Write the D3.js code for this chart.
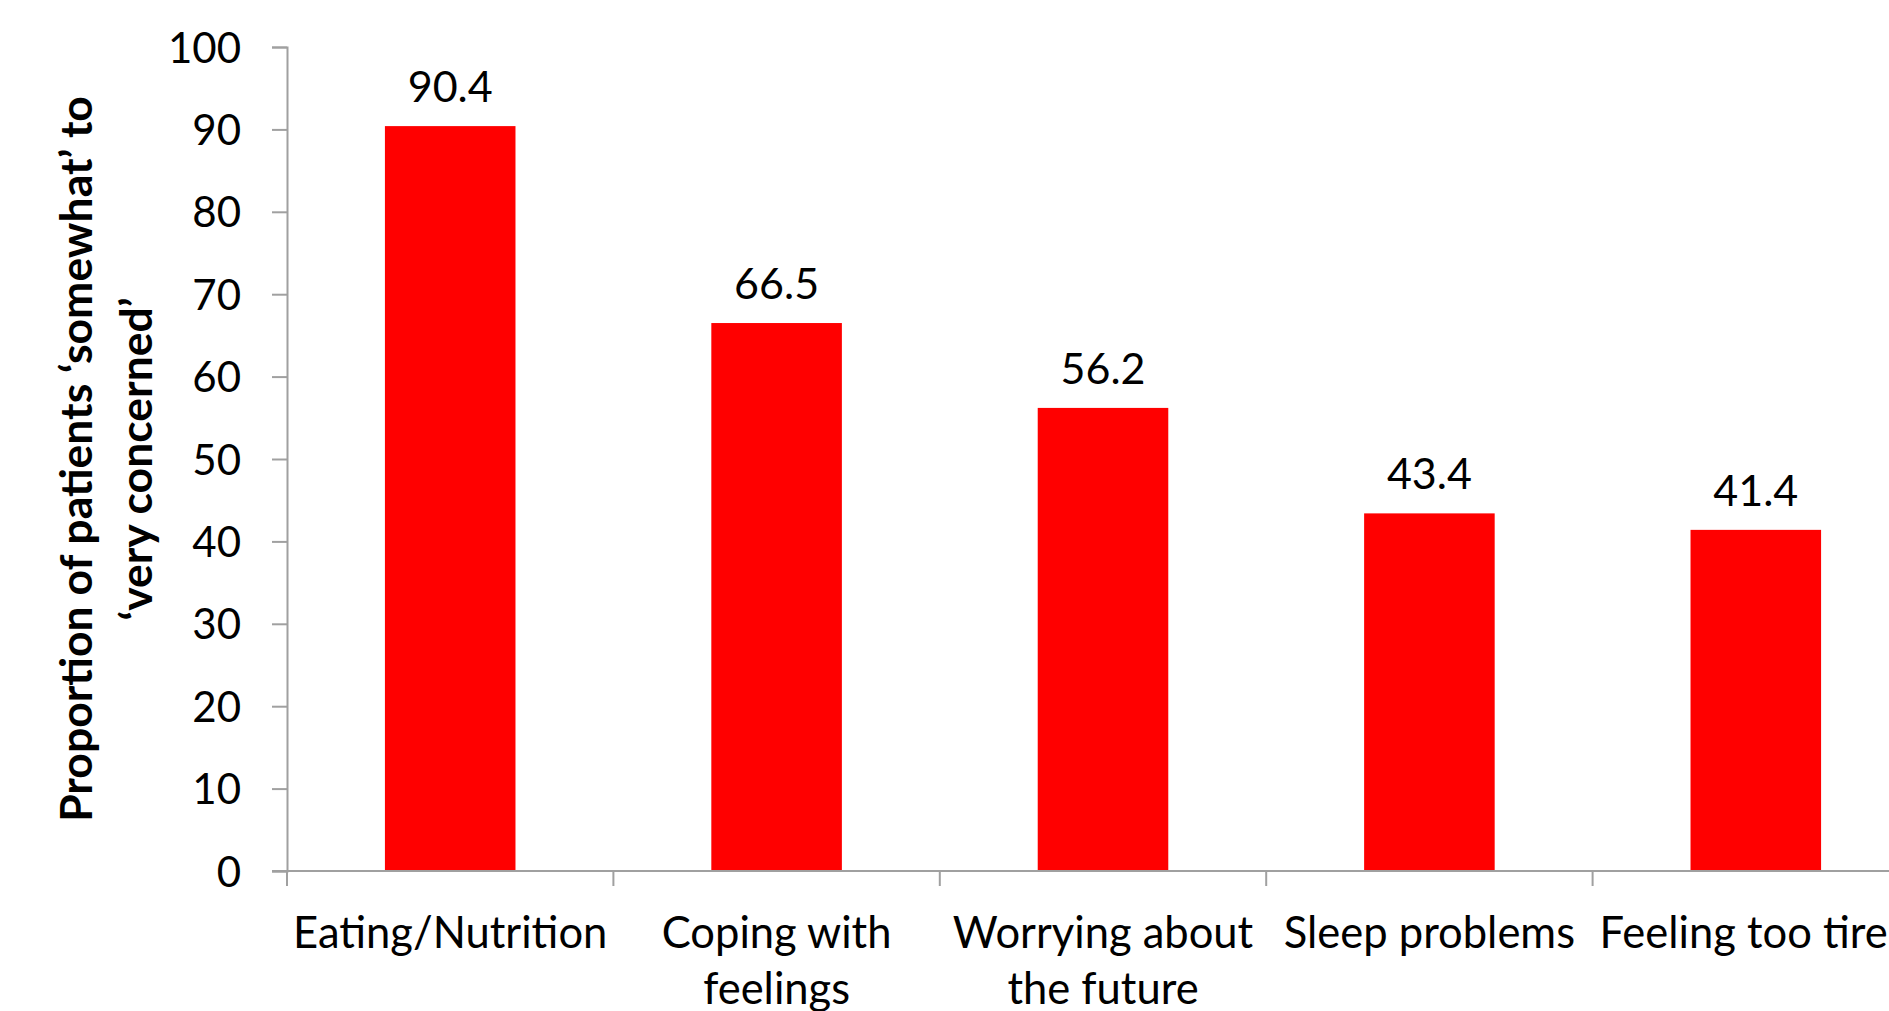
<!DOCTYPE html>
<html>
<head>
<meta charset="utf-8">
<script src="https://cdn.jsdelivr.net/npm/d3@7"></script>
<style>
  html, body { margin: 0; padding: 0; background: #fff; overflow: hidden; }
  svg { display: block; }
  text { font-family: Lato, "Open Sans", sans-serif; fill: #000; }
</style>
</head>
<body>
<svg id="chart" width="1889" height="1011"></svg>
<script>
const categories = ["Eating/Nutrition", "Coping with feelings", "Worrying about the future", "Sleep problems", "Feeling too tired"];
const categoryLines = [["Eating/Nutrition"], ["Coping with", "feelings"], ["Worrying about", "the future"], ["Sleep problems"], ["Feeling too tired"]];
const values = [90.4, 66.5, 56.2, 43.4, 41.4];
const yTicks = [0, 10, 20, 30, 40, 50, 60, 70, 80, 90, 100];
const yTitleLines = ["Proportion of patients \u2018somewhat\u2019 to", "\u2018very concerned\u2019"];

const W = 1889, H = 1011;
const plotLeft = 287, step = 326.4, plotTop = 47, plotBottom = 871;
const axisColor = "#a0a0a0";

const svg = d3.select("#chart");

const x = d3.scaleBand()
  .domain(categories)
  .range([plotLeft, plotLeft + step * categories.length])
  .paddingInner(0.6)
  .paddingOuter(0.3);

const y = d3.scaleLinear().domain([0, 100]).range([plotBottom, plotTop]);

// bars
svg.append("g").selectAll("rect")
  .data(categories)
  .join("rect")
  .attr("x", d => x(d))
  .attr("width", x.bandwidth())
  .attr("y", (d, i) => y(values[i]))
  .attr("height", (d, i) => y(0) - y(values[i]))
  .attr("fill", "#ff0000");

// value labels
svg.append("g").selectAll("text")
  .data(categories)
  .join("text")
  .attr("x", d => x(d) + x.bandwidth() / 2)
  .attr("y", (d, i) => y(values[i]) - 24)
  .attr("text-anchor", "middle")
  .style("font-size", "43px")
  .text((d, i) => values[i].toFixed(1));

// y axis
const yAxis = svg.append("g")
  .attr("transform", `translate(${plotLeft},0)`)
  .call(d3.axisLeft(y).tickValues(yTicks).tickSize(15).tickPadding(31).tickFormat(d3.format("d")));
yAxis.selectAll("path, line").attr("stroke", axisColor).attr("stroke-width", 2);
yAxis.selectAll("text").style("font-size", "42px").attr("fill", "#000").attr("dy", "0.36em");

// x axis
const xg = svg.append("g");
xg.append("line")
  .attr("x1", plotLeft - 15).attr("x2", W)
  .attr("y1", y(0)).attr("y2", y(0))
  .attr("stroke", axisColor).attr("stroke-width", 2);
const boundaries = categories.map(d => x(d) - x.step() * x.paddingOuter());
xg.selectAll("line.tick")
  .data(boundaries)
  .join("line")
  .attr("class", "tick")
  .attr("x1", d => d).attr("x2", d => d)
  .attr("y1", y(0)).attr("y2", y(0) + 15)
  .attr("stroke", axisColor).attr("stroke-width", 2);

// category labels
const labels = xg.selectAll("text.cat")
  .data(categories)
  .join("text")
  .attr("class", "cat")
  .attr("text-anchor", "middle")
  .style("font-size", "43.5px")
  .attr("transform", d => `translate(${x(d) + x.bandwidth() / 2},${y(0) + 77})`);
labels.each(function(d, i) {
  const t = d3.select(this);
  categoryLines[i].forEach((ln, j) => {
    t.append("tspan").attr("x", 0).attr("y", j * 56).text(ln);
  });
});

// y title
const title = svg.append("text")
  .attr("text-anchor", "middle")
  .attr("transform", `translate(0,${(plotTop + plotBottom) / 2}) rotate(-90)`)
  .style("font-size", "44.5px")
  .style("font-weight", "bold");
yTitleLines.forEach((ln, j) => {
  title.append("tspan").attr("x", 0).attr("y", 92 + j * 60).text(ln);
});
</script>
</body>
</html>
